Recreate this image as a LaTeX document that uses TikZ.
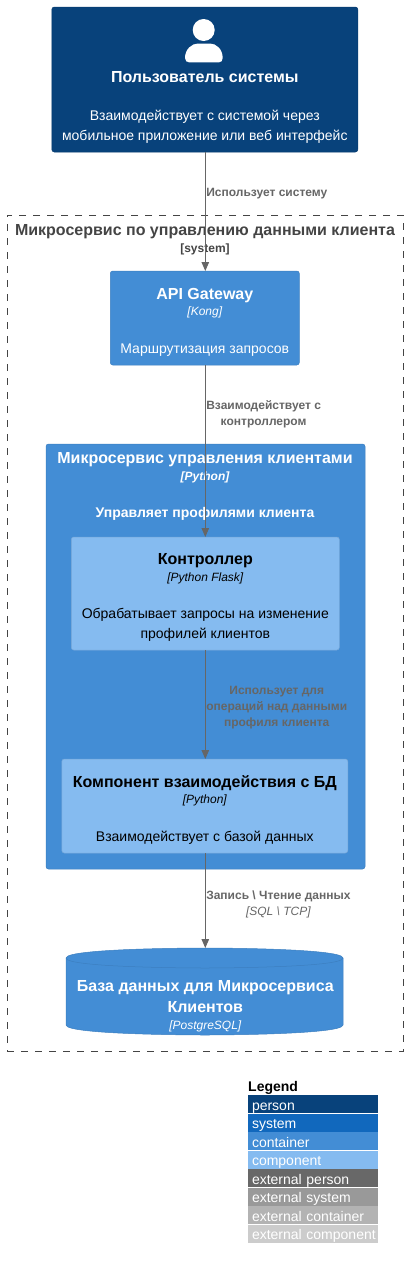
\documentclass[tikz,border=0pt]{standalone}
\usepackage{fontspec}
\setmainfont{Liberation Sans}
\usetikzlibrary{arrows.meta,positioning}

\definecolor{personfill}{HTML}{08427B}
\definecolor{personline}{HTML}{073B6F}
\definecolor{systemfill}{HTML}{1168BD}
\definecolor{containerfill}{HTML}{438DD5}
\definecolor{containerline}{HTML}{3C7FC0}
\definecolor{componentfill}{HTML}{85BBF0}
\definecolor{componentline}{HTML}{78A8D8}
\definecolor{extpersonfill}{HTML}{686868}
\definecolor{extsystemfill}{HTML}{999999}
\definecolor{extcontainerfill}{HTML}{B3B3B3}
\definecolor{extcomponentfill}{HTML}{CCCCCC}
\definecolor{relgray}{HTML}{666666}
\definecolor{boundarygray}{HTML}{444444}

\newcommand{\boxtitle}[1]{{\fontsize{16}{18}\selectfont\bfseries #1}}
\newcommand{\boxtech}[1]{{\fontsize{12}{18}\selectfont\itshape #1}}
\newcommand{\boxtop}{\rule{0pt}{19pt}}

\begin{document}
\begin{tikzpicture}[
  x=1pt, y=-1pt,
  block/.style={rectangle, draw, rounded corners=2.5pt, line width=0.5pt, outer sep=0pt, inner sep=0pt, align=center, font=\fontsize{14}{18}\selectfont},
  personblock/.style={block, fill=personfill, draw=personline, text=white},
  containerblock/.style={block, fill=containerfill, draw=containerline, text=white},
  componentblock/.style={block, fill=componentfill, draw=componentline, text=black},
  rel/.style={draw=relgray, line width=1pt, -{Triangle[length=9pt,width=7.5pt]}},
  rellabel/.style={text=relgray, inner sep=0pt, align=center, font=\fontsize{12}{16}\selectfont\bfseries},
  legendrow/.style={rectangle, anchor=north west, minimum width=130pt, minimum height=17.5pt, inner ysep=0pt, inner xsep=4pt, text width=122pt, text height=15pt, text depth=3pt, outer sep=0pt, text=white, font=\fontsize{14}{16}\selectfont}
]
\useasboundingbox (0,0) rectangle (408,1269);

% boundary
\node[draw=boundarygray, dash pattern=on 7pt off 7pt, line width=1pt, rectangle, outer sep=0pt, minimum width=396.5pt, minimum height=836pt] (boundary) at (205.4,633) {};
\node[text=boundarygray, inner sep=0pt, font=\fontsize{16}{18}\selectfont\bfseries] (boundary_title) at (205,232) {Микросервис по управлению данными клиента};
\node[below=12pt of boundary_title.center, text=boundarygray, inner sep=0pt, font=\fontsize{12}{14}\selectfont\bfseries] (boundary_tag) {[system]};

% person
\node[personblock, minimum width=306pt, minimum height=145pt] (user) at (204.8,79.5) {\rule{0pt}{67pt}\boxtitle{Пользователь системы}\\[20pt]Взаимодействует с системой через\\[2pt]мобильное приложение или веб интерфейс};
\node[circle, fill=white, inner sep=0pt, minimum size=22pt] (user_head) at (203.7,30) {};
\fill[white] (185,58) .. controls (185,49) and (192,43.5) .. (198,43.5) -- (210,43.5) .. controls (216,43.5) and (222.7,49) .. (222.7,58) .. controls (222.7,61) and (221,62.3) .. (219,62.3) -- (189,62.3) .. controls (187,62.3) and (185,61) .. (185,58) -- cycle;

% containers
\node[containerblock, minimum width=189pt, minimum height=94pt] (gateway) at (204.8,318) {\boxtop\boxtitle{API Gateway}\\[-1.5pt]\boxtech{[Kong]}\\[19.5pt]Маршрутизация запросов};
\node[containerblock, minimum width=319pt, minimum height=425pt] (service) at (205.5,656.5) {};
\node[text=white, inner sep=0pt, align=center, font=\fontsize{14}{18}\selectfont] (service_title) at (205,486) {\boxtitle{Микросервис управления клиентами}\\[-1pt]\boxtech{\bfseries [Python]}\\[19pt]{\bfseries Управляет профилями клиента}};

% components
\node[componentblock, minimum width=268pt, minimum height=113pt] (controller) at (205.3,593.5) {\boxtop\boxtitle{Контроллер}\\[-1.5pt]\boxtech{[Python Flask]}\\[19.5pt]Обрабатывает запросы на изменение\\[2pt]профилей клиентов};
\node[componentblock, minimum width=286pt, minimum height=94pt] (dbcomponent) at (204.8,806) {\boxtop\boxtitle{Компонент взаимодействия с БД}\\[-1.5pt]\boxtech{[Python]}\\[19.5pt]Взаимодействует с базой данных};

% database
\fill[containerfill] (66,958) .. controls (66,948) and (205,948) .. (205,948) .. controls (205,948) and (343,948) .. (343,958) -- (343,1025) .. controls (343,1035) and (205,1035) .. (205,1035) .. controls (205,1035) and (66,1035) .. (66,1025) -- cycle;
\draw[containerline, line width=0.5pt] (66,958) .. controls (66,948) and (205,948) .. (205,948) .. controls (205,948) and (343,948) .. (343,958) -- (343,1025) .. controls (343,1035) and (205,1035) .. (205,1035) .. controls (205,1035) and (66,1035) .. (66,1025) -- cycle;
\draw[containerline, line width=0.5pt] (66,958) .. controls (66,968) and (205,968) .. (205,968) .. controls (205,968) and (343,968) .. (343,958);
\node[rectangle, inner sep=0pt, outer sep=0pt, text=white, minimum width=277pt, minimum height=87pt, align=center, font=\fontsize{14}{18}\selectfont] (database) at (205.3,991.5) {\rule{0pt}{40pt}\boxtitle{База данных для Микросервиса}\\[3pt]\boxtitle{Клиентов}\\[-1pt]\boxtech{[PostgreSQL]}};

% relations
\coordinate (spine) at (205.3,0);
\draw[rel] (user.south -| spine) -- node[rellabel, right=0.5pt, pos=.35] {Использует систему} (gateway.north -| spine);
\draw[rel] (gateway.south -| spine) -- node[rellabel, right=0.5pt, pos=.285] {Взаимодействует с\\контроллером} (controller.north);
\draw[rel] (controller.south) -- node[rellabel, right=0.5pt, pos=.529] {Использует для\\операций над данными\\профиля клиента} (dbcomponent.north -| spine);
\draw[rel] (dbcomponent.south -| spine) -- node[rellabel, right=0.5pt, pos=.543] {Запись \textbackslash{} Чтение данных\\{\mdseries\itshape [SQL \textbackslash{} TCP]}} (database.north);

% legend
\node[anchor=north west, inner sep=0pt, font=\fontsize{14}{16}\selectfont\bfseries] (legend_title) at (248,1081.5) {Legend};
\foreach \i/\rowcolor/\rowname in {0/personfill/person, 1/systemfill/system, 2/containerfill/container, 3/componentfill/component, 4/extpersonfill/external person, 5/extsystemfill/external system, 6/extcontainerfill/external container, 7/extcomponentfill/external component}
  \node[legendrow, fill=\rowcolor] (legend_\i) at (248,{1095+18.5*\i}) {\mbox{\rowname}};
\end{tikzpicture}
\end{document}
